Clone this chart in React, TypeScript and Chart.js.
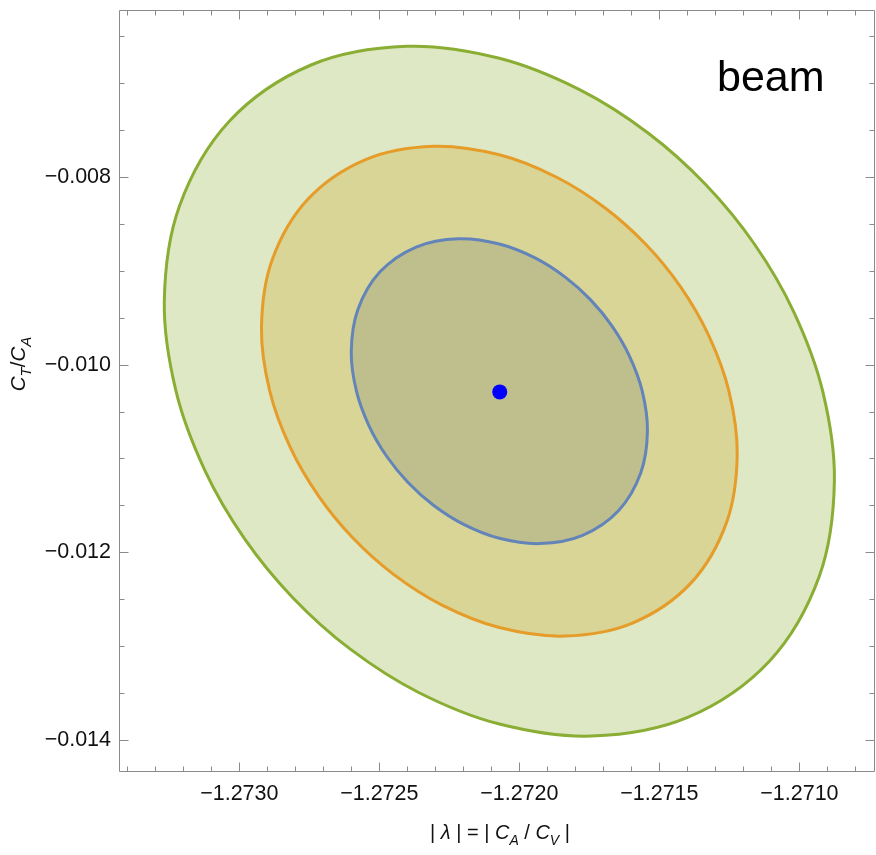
import React, { useEffect, useRef } from 'react';
import { Chart, registerables } from 'chart.js';

Chart.register(...registerables);

// ---- data ----
const xMin = -1.273426;
const xMax = -1.27073;
const yMin = -0.014332;
const yMax = -0.0062185;

const xMajorTicks = [-1.273, -1.2725, -1.272, -1.2715, -1.271];
const xTickLabels = ['\u22121.2730', '\u22121.2725', '\u22121.2720', '\u22121.2715', '\u22121.2710'];
const yMajorTicks = [-0.008, -0.01, -0.012, -0.014];
const yTickLabels = ['\u22120.008', '\u22120.010', '\u22120.012', '\u22120.014'];

// outer (green) contour
const greenX = [-1.2709168, -1.270875, -1.2709286, -1.2711071, -1.2713989, -1.2717414, -1.2720714, -1.2723596, -1.2726035, -1.2728089, -1.2729821, -1.2731235, -1.273226, -1.2732678, -1.2732142, -1.2730357, -1.2727439, -1.2724014, -1.2720714, -1.2717832, -1.2715393, -1.2713339, -1.2711607, -1.2710193];
const greenY = [-0.0102825, -0.0112399, -0.0122527, -0.013161, -0.0137601, -0.0139595, -0.0138316, -0.0134947, -0.013033, -0.012484, -0.0118518, -0.0111237, -0.0102825, -0.0093251, -0.0083123, -0.007404, -0.0068049, -0.0066055, -0.0067334, -0.0070703, -0.007532, -0.008081, -0.0087132, -0.0094413];

// middle (orange) contour
const orangeX = [-1.2712516, -1.271222, -1.27126, -1.2713867, -1.2715939, -1.2718371, -1.2720714, -1.272276, -1.2724492, -1.272595, -1.272718, -1.2728184, -1.2728912, -1.2729208, -1.2728828, -1.2727561, -1.2725489, -1.2723057, -1.2720714, -1.2718668, -1.2716936, -1.2715478, -1.2714248, -1.2713244];
const orangeY = [-0.0102825, -0.0109623, -0.0116813, -0.0123262, -0.0127516, -0.0128932, -0.0128024, -0.0125632, -0.0122354, -0.0118456, -0.0113967, -0.0108798, -0.0102825, -0.0096027, -0.0088837, -0.0082388, -0.0078134, -0.0076718, -0.0077626, -0.0080018, -0.0083296, -0.0087194, -0.0091683, -0.0096852];

// inner (blue) contour
const blueX = [-1.2715611, -1.2715426, -1.2715663, -1.2716452, -1.2717742, -1.2719255, -1.2720714, -1.2721988, -1.2723066, -1.2723974, -1.2724739, -1.2725364, -1.2725817, -1.2726002, -1.2725765, -1.2724976, -1.2723686, -1.2722173, -1.2720714, -1.271944, -1.2718362, -1.2717454, -1.2716689, -1.2716064];
const blueY = [-0.0102825, -0.0107057, -0.0111533, -0.0115548, -0.0118196, -0.0119077, -0.0118512, -0.0117023, -0.0114982, -0.0112556, -0.0109761, -0.0106543, -0.0102825, -0.0098593, -0.0094117, -0.0090102, -0.0087454, -0.0086573, -0.0087138, -0.008862, -0.0090668, -0.0093094, -0.0095889, -0.0099107];

const bestFitX = [-1.27207];
const bestFitY = [-0.01029];

const chartLabel = 'beam';

// ---- helpers ----
const FAMILY = '"Liberation Sans", Arial, Helvetica, sans-serif';

function toPoints(xs: number[], ys: number[]) {
  return xs.map((x, i) => ({ x, y: ys[i] }));
}

type Part = { t: string; i?: boolean; s?: boolean };

function drawRich(ctx: CanvasRenderingContext2D, parts: Part[], cx: number, baseline: number, size: number) {
  const fontFor = (p: Part) => `${p.i ? 'italic ' : ''}${p.s ? Math.round(size * 0.72) : size}px ${FAMILY}`;
  const widths = parts.map((p) => {
    ctx.font = fontFor(p);
    return ctx.measureText(p.t).width;
  });
  const total = widths.reduce((a, b) => a + b, 0);
  let x = cx - total / 2;
  ctx.textAlign = 'left';
  ctx.textBaseline = 'alphabetic';
  parts.forEach((p, i) => {
    ctx.font = fontFor(p);
    ctx.fillText(p.t, x, baseline + (p.s ? size * 0.28 : 0));
    x += widths[i];
  });
}

function isMajor(v: number, majors: number[]) {
  return majors.findIndex((m) => Math.abs(m - v) < 1e-9);
}

// make the contour lines closed, smooth loops (as the radar controller does)
const loopPlugin = {
  id: 'closedContours',
  afterDatasetsUpdate(chart: any) {
    chart.data.datasets.forEach((ds: any, i: number) => {
      if (!ds.closed) return;
      const line = chart.getDatasetMeta(i).dataset;
      if (!line) return;
      line._loop = true;
      line._fullLoop = true;
      line._pointsUpdated = false;
      line._segments = undefined;
      line._path = undefined;
    });
  },
};

const framePlugin = {
  id: 'mathematicaFrame',
  afterDraw(chart: any) {
    const { ctx, chartArea: a, scales } = chart;
    const xs = scales.x;
    const ys = scales.y;
    ctx.save();
    ctx.strokeStyle = '#8a8a8a';
    ctx.lineWidth = 1;
    const L = Math.round(a.left) - 0.5;
    const R = Math.round(a.right) - 0.5;
    const T = Math.round(a.top) + 0.5;
    const B = Math.round(a.bottom) + 0.5;
    ctx.beginPath();
    ctx.rect(L, T, R - L, B - T);
    ctx.stroke();
    ctx.beginPath();
    xs.ticks.forEach((t: any) => {
      const px = Math.round(xs.getPixelForValue(t.value)) + 0.5;
      if (px < L || px > R) return;
      const len = isMajor(t.value, xMajorTicks) >= 0 ? 9 : 5;
      ctx.moveTo(px, B);
      ctx.lineTo(px, B - len);
      ctx.moveTo(px, T);
      ctx.lineTo(px, T + len);
    });
    ys.ticks.forEach((t: any) => {
      const py = Math.round(ys.getPixelForValue(t.value)) + 0.5;
      if (py < T || py > B) return;
      const len = isMajor(t.value, yMajorTicks) >= 0 ? 9 : 5;
      ctx.moveTo(L, py);
      ctx.lineTo(L + len, py);
      ctx.moveTo(R, py);
      ctx.lineTo(R - len, py);
    });
    ctx.stroke();

    // axis titles and panel label
    ctx.fillStyle = '#111';
    drawRich(
      ctx,
      [
        { t: '| ' },
        { t: '\u03bb', i: true },
        { t: ' | = | ' },
        { t: 'C', i: true },
        { t: 'A', i: true, s: true },
        { t: ' / ' },
        { t: 'C', i: true },
        { t: 'V', i: true, s: true },
        { t: ' |' },
      ],
      500,
      839,
      20
    );
    ctx.save();
    ctx.translate(18, 364);
    ctx.rotate(-Math.PI / 2);
    drawRich(
      ctx,
      [
        { t: 'C', i: true },
        { t: 'T', i: true, s: true },
        { t: '/' },
        { t: 'C', i: true },
        { t: 'A', i: true, s: true },
      ],
      0,
      7,
      20.5
    );
    ctx.restore();

    ctx.fillStyle = '#000';
    ctx.font = `43px ${FAMILY}`;
    ctx.textAlign = 'left';
    ctx.textBaseline = 'alphabetic';
    ctx.fillText(chartLabel, 717, 91);
    ctx.restore();
  },
};

export default function App() {
  const ref = useRef<HTMLCanvasElement | null>(null);

  useEffect(() => {
    document.body.style.margin = '0';
    const canvas = ref.current;
    if (!canvas) return;
    Chart.defaults.font.family = FAMILY;

    const contour = (data: any, line: string, fill: string, label: string) => ({
      label,
      data,
      closed: true,
      showLine: true,
      borderColor: line,
      borderWidth: 3,
      backgroundColor: fill,
      fill: 'shape',
      pointRadius: 0,
      pointHoverRadius: 0,
      tension: 0.34,
    });

    const chart = new Chart(canvas, {
      type: 'scatter',
      data: {
        datasets: [
          {
            label: 'best fit',
            data: toPoints(bestFitX, bestFitY),
            backgroundColor: '#0000ff',
            borderColor: '#0000ff',
            pointRadius: 7.5,
            pointBorderWidth: 0,
            showLine: false,
          },
          contour(toPoints(blueX, blueY), '#6384b9', '#bfbf8d', '1 sigma'),
          contour(toPoints(orangeX, orangeY), '#e59c29', '#d9d596', '2 sigma'),
          contour(toPoints(greenX, greenY), '#8aad33', '#dee8c5', '3 sigma'),
        ],
      },
      options: {
        responsive: false,
        animation: false,
        devicePixelRatio: 1,
        layout: { autoPadding: false, padding: { top: 10, right: 1, left: 0, bottom: 0 } },
        plugins: {
          legend: { display: false },
          tooltip: { enabled: false },
        },
        scales: {
          x: {
            type: 'linear',
            min: xMin,
            max: xMax,
            border: { display: false },
            grid: { display: false, drawTicks: false },
            ticks: {
              stepSize: 0.0001,
              includeBounds: false,
              autoSkip: false,
              maxRotation: 0,
              maxTicksLimit: 200,
              padding: 10,
              color: '#111',
              font: { size: 21.5, family: FAMILY },
              callback: (v: any) => {
                const i = isMajor(Number(v), xMajorTicks);
                return i >= 0 ? xTickLabels[i] : '';
              },
            },
            afterFit: (s: any) => {
              s.height = 84;
              s.paddingLeft = 0;
              s.paddingRight = 0;
            },
          },
          y: {
            type: 'linear',
            min: yMin,
            max: yMax,
            border: { display: false },
            grid: { display: false, drawTicks: false },
            ticks: {
              stepSize: 0.0005,
              includeBounds: false,
              autoSkip: false,
              maxTicksLimit: 200,
              padding: 9,
              color: '#111',
              font: { size: 21.5, family: FAMILY },
              callback: (v: any) => {
                const i = isMajor(Number(v), yMajorTicks);
                return i >= 0 ? yTickLabels[i] : '';
              },
            },
            afterFit: (s: any) => {
              s.width = 120;
              s.paddingTop = 0;
              s.paddingBottom = 0;
            },
          },
        },
      },
      plugins: [loopPlugin, framePlugin],
    } as any);

    return () => chart.destroy();
  }, []);

  return (
    <div style={{ position: 'absolute', left: 0, top: 0, width: 876, height: 855, background: '#fff' }}>
      <canvas ref={ref} width={876} height={855} style={{ display: 'block' }} />
    </div>
  );
}
